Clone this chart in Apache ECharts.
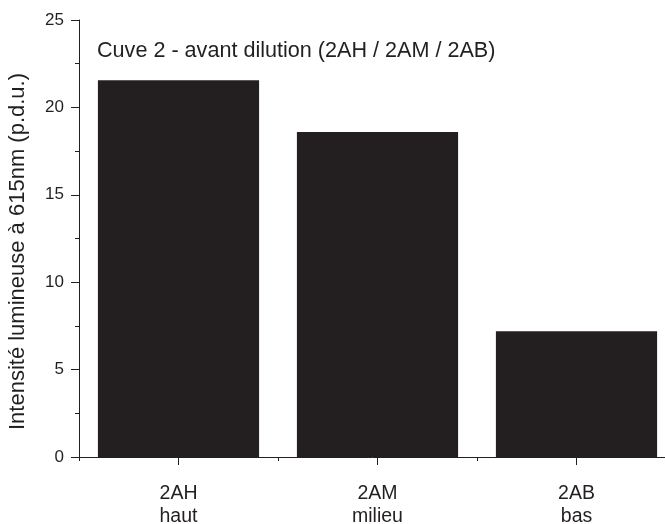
<!DOCTYPE html>
<html><head><meta charset="utf-8">
<script src="https://cdn.jsdelivr.net/npm/echarts@6/dist/echarts.min.js"></script>
<style>html,body{margin:0;padding:0;background:#fff}#c{width:665px;height:524px}</style>
</head><body><div id="c"></div>
<script>
const categories = ['2AH\nhaut', '2AM\nmilieu', '2AB\nbas'];
const values = [21.56, 18.59, 7.2];
const yTicks = [0, 5, 10, 15, 20, 25];
const titleText = 'Cuve 2 - avant dilution (2AH / 2AM / 2AB)';
const yName = 'Intensité lumineuse à 615nm (p.d.u.)';

const font = 'Liberation Sans, Arial, sans-serif';
const ink = '#231f20';
const chart = echarts.init(document.getElementById('c'), null, {renderer: 'canvas'});
chart.setOption({
  animation: false,
  grid: {left: 79, top: 20, width: 597, bottom: 67, containLabel: false, outerBoundsMode: 'none'},
  title: {text: titleText, left: 92, top: 35,
    textStyle: {fontFamily: font, fontSize: 21.6, fontWeight: 'normal', color: ink}},
  xAxis: [{
    type: 'category', data: categories,
    axisLine: {show: true, lineStyle: {color: ink, width: 1}},
    axisTick: {show: true, alignWithLabel: true, length: 8, inside: false, lineStyle: {color: ink, width: 1}},
    axisLabel: {fontFamily: font, fontSize: 19.5, color: ink, margin: 25, lineHeight: 23}
  }, {
    type: 'category', data: categories, position: 'bottom',
    axisLine: {show: false},
    axisTick: {show: true, length: 4, lineStyle: {color: ink, width: 1}},
    axisLabel: {show: false}
  }],
  yAxis: {
    type: 'value', min: yTicks[0], max: yTicks[yTicks.length - 1], interval: 5,
    name: yName, nameLocation: 'middle', nameGap: 50, nameRotate: 90,
    nameTextStyle: {fontFamily: font, fontSize: 22, color: ink, padding: [0, 26, 0, 0]},
    axisLine: {show: true, lineStyle: {color: ink, width: 1}},
    axisTick: {show: true, length: 8, lineStyle: {color: ink, width: 1}},
    minorTick: {show: true, splitNumber: 2, length: 4, lineStyle: {color: ink, width: 1}},
    splitLine: {show: false},
    axisLabel: {fontFamily: font, fontSize: 17, color: ink, margin: 15}
  },
  series: [{
    type: 'bar', data: values, xAxisIndex: 0,
    barCategoryGap: '19%',
    itemStyle: {color: ink}
  }]
});
</script></body></html>
